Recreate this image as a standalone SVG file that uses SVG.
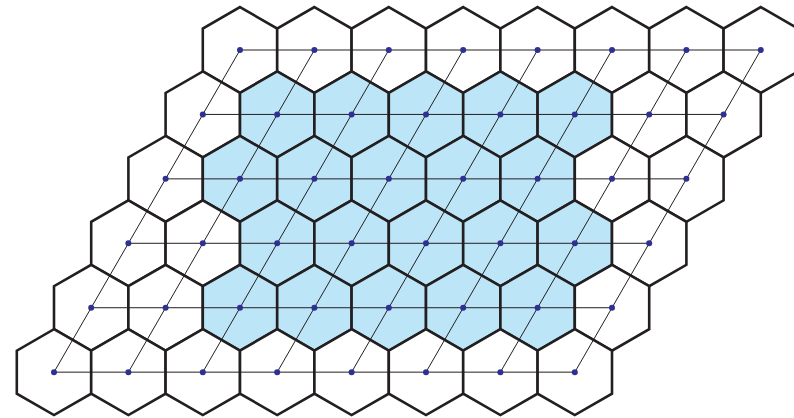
<svg xmlns="http://www.w3.org/2000/svg" xmlns:xlink="http://www.w3.org/1999/xlink" width="794" height="418" viewBox="0 0 794 418">
<style>
.hex{stroke:#231f20;stroke-width:2.6;stroke-linejoin:miter}
.w{fill:#ffffff}
.b{fill:#bde5f8}
.edge{stroke:#231f20;stroke-width:1;fill:none}
.dot{fill:#2e3192}
</style>
<defs>
<polygon id="hx" points="0,-42.95 37.2,-21.48 37.2,21.48 0,42.95 -37.2,21.48 -37.2,-21.48"/>
</defs>
<rect width="794" height="418" fill="#ffffff"/>
<g id="nodes">
<g id="n-0-0"><use xlink:href="#hx" class="hex w" x="240" y="50"/></g>
<g id="n-0-1"><use xlink:href="#hx" class="hex w" x="314.4" y="50"/></g>
<g id="n-0-2"><use xlink:href="#hx" class="hex w" x="388.8" y="50"/></g>
<g id="n-0-3"><use xlink:href="#hx" class="hex w" x="463.2" y="50"/></g>
<g id="n-0-4"><use xlink:href="#hx" class="hex w" x="537.6" y="50"/></g>
<g id="n-0-5"><use xlink:href="#hx" class="hex w" x="612" y="50"/></g>
<g id="n-0-6"><use xlink:href="#hx" class="hex w" x="686.4" y="50"/></g>
<g id="n-0-7"><use xlink:href="#hx" class="hex w" x="760.8" y="50"/></g>
<g id="n-1-0"><use xlink:href="#hx" class="hex w" x="202.8" y="114.43"/></g>
<g id="n-1-1"><use xlink:href="#hx" class="hex b" x="277.2" y="114.43"/></g>
<g id="n-1-2"><use xlink:href="#hx" class="hex b" x="351.6" y="114.43"/></g>
<g id="n-1-3"><use xlink:href="#hx" class="hex b" x="426" y="114.43"/></g>
<g id="n-1-4"><use xlink:href="#hx" class="hex b" x="500.4" y="114.43"/></g>
<g id="n-1-5"><use xlink:href="#hx" class="hex b" x="574.8" y="114.43"/></g>
<g id="n-1-6"><use xlink:href="#hx" class="hex w" x="649.2" y="114.43"/></g>
<g id="n-1-7"><use xlink:href="#hx" class="hex w" x="723.6" y="114.43"/></g>
<g id="n-2-0"><use xlink:href="#hx" class="hex w" x="165.6" y="178.86"/></g>
<g id="n-2-1"><use xlink:href="#hx" class="hex b" x="240" y="178.86"/></g>
<g id="n-2-2"><use xlink:href="#hx" class="hex b" x="314.4" y="178.86"/></g>
<g id="n-2-3"><use xlink:href="#hx" class="hex b" x="388.8" y="178.86"/></g>
<g id="n-2-4"><use xlink:href="#hx" class="hex b" x="463.2" y="178.86"/></g>
<g id="n-2-5"><use xlink:href="#hx" class="hex b" x="537.6" y="178.86"/></g>
<g id="n-2-6"><use xlink:href="#hx" class="hex w" x="612" y="178.86"/></g>
<g id="n-2-7"><use xlink:href="#hx" class="hex w" x="686.4" y="178.86"/></g>
<g id="n-3-0"><use xlink:href="#hx" class="hex w" x="128.4" y="243.29"/></g>
<g id="n-3-1"><use xlink:href="#hx" class="hex w" x="202.8" y="243.29"/></g>
<g id="n-3-2"><use xlink:href="#hx" class="hex b" x="277.2" y="243.29"/></g>
<g id="n-3-3"><use xlink:href="#hx" class="hex b" x="351.6" y="243.29"/></g>
<g id="n-3-4"><use xlink:href="#hx" class="hex b" x="426" y="243.29"/></g>
<g id="n-3-5"><use xlink:href="#hx" class="hex b" x="500.4" y="243.29"/></g>
<g id="n-3-6"><use xlink:href="#hx" class="hex b" x="574.8" y="243.29"/></g>
<g id="n-3-7"><use xlink:href="#hx" class="hex w" x="649.2" y="243.29"/></g>
<g id="n-4-0"><use xlink:href="#hx" class="hex w" x="91.2" y="307.72"/></g>
<g id="n-4-1"><use xlink:href="#hx" class="hex w" x="165.6" y="307.72"/></g>
<g id="n-4-2"><use xlink:href="#hx" class="hex b" x="240" y="307.72"/></g>
<g id="n-4-3"><use xlink:href="#hx" class="hex b" x="314.4" y="307.72"/></g>
<g id="n-4-4"><use xlink:href="#hx" class="hex b" x="388.8" y="307.72"/></g>
<g id="n-4-5"><use xlink:href="#hx" class="hex b" x="463.2" y="307.72"/></g>
<g id="n-4-6"><use xlink:href="#hx" class="hex b" x="537.6" y="307.72"/></g>
<g id="n-4-7"><use xlink:href="#hx" class="hex w" x="612" y="307.72"/></g>
<g id="n-5-0"><use xlink:href="#hx" class="hex w" x="54" y="372.15"/></g>
<g id="n-5-1"><use xlink:href="#hx" class="hex w" x="128.4" y="372.15"/></g>
<g id="n-5-2"><use xlink:href="#hx" class="hex w" x="202.8" y="372.15"/></g>
<g id="n-5-3"><use xlink:href="#hx" class="hex w" x="277.2" y="372.15"/></g>
<g id="n-5-4"><use xlink:href="#hx" class="hex w" x="351.6" y="372.15"/></g>
<g id="n-5-5"><use xlink:href="#hx" class="hex w" x="426" y="372.15"/></g>
<g id="n-5-6"><use xlink:href="#hx" class="hex w" x="500.4" y="372.15"/></g>
<g id="n-5-7"><use xlink:href="#hx" class="hex w" x="574.8" y="372.15"/></g>
</g>
<g id="connectors" class="edge">
<line x1="240" y1="50" x2="760.8" y2="50"/>
<line x1="202.8" y1="114.43" x2="723.6" y2="114.43"/>
<line x1="165.6" y1="178.86" x2="686.4" y2="178.86"/>
<line x1="128.4" y1="243.29" x2="649.2" y2="243.29"/>
<line x1="91.2" y1="307.72" x2="612" y2="307.72"/>
<line x1="54" y1="372.15" x2="574.8" y2="372.15"/>
<line x1="54" y1="372.15" x2="240" y2="50"/>
<line x1="128.4" y1="372.15" x2="314.4" y2="50"/>
<line x1="202.8" y1="372.15" x2="388.8" y2="50"/>
<line x1="277.2" y1="372.15" x2="463.2" y2="50"/>
<line x1="351.6" y1="372.15" x2="537.6" y2="50"/>
<line x1="426" y1="372.15" x2="612" y2="50"/>
<line x1="500.4" y1="372.15" x2="686.4" y2="50"/>
<line x1="574.8" y1="372.15" x2="760.8" y2="50"/>
</g>
<g id="points" class="dot">
<circle cx="240" cy="50" r="3"/><circle cx="314.4" cy="50" r="3"/><circle cx="388.8" cy="50" r="3"/><circle cx="463.2" cy="50" r="3"/><circle cx="537.6" cy="50" r="3"/><circle cx="612" cy="50" r="3"/><circle cx="686.4" cy="50" r="3"/><circle cx="760.8" cy="50" r="3"/>
<circle cx="202.8" cy="114.43" r="3"/><circle cx="277.2" cy="114.43" r="3"/><circle cx="351.6" cy="114.43" r="3"/><circle cx="426" cy="114.43" r="3"/><circle cx="500.4" cy="114.43" r="3"/><circle cx="574.8" cy="114.43" r="3"/><circle cx="649.2" cy="114.43" r="3"/><circle cx="723.6" cy="114.43" r="3"/>
<circle cx="165.6" cy="178.86" r="3"/><circle cx="240" cy="178.86" r="3"/><circle cx="314.4" cy="178.86" r="3"/><circle cx="388.8" cy="178.86" r="3"/><circle cx="463.2" cy="178.86" r="3"/><circle cx="537.6" cy="178.86" r="3"/><circle cx="612" cy="178.86" r="3"/><circle cx="686.4" cy="178.86" r="3"/>
<circle cx="128.4" cy="243.29" r="3"/><circle cx="202.8" cy="243.29" r="3"/><circle cx="277.2" cy="243.29" r="3"/><circle cx="351.6" cy="243.29" r="3"/><circle cx="426" cy="243.29" r="3"/><circle cx="500.4" cy="243.29" r="3"/><circle cx="574.8" cy="243.29" r="3"/><circle cx="649.2" cy="243.29" r="3"/>
<circle cx="91.2" cy="307.72" r="3"/><circle cx="165.6" cy="307.72" r="3"/><circle cx="240" cy="307.72" r="3"/><circle cx="314.4" cy="307.72" r="3"/><circle cx="388.8" cy="307.72" r="3"/><circle cx="463.2" cy="307.72" r="3"/><circle cx="537.6" cy="307.72" r="3"/><circle cx="612" cy="307.72" r="3"/>
<circle cx="54" cy="372.15" r="3"/><circle cx="128.4" cy="372.15" r="3"/><circle cx="202.8" cy="372.15" r="3"/><circle cx="277.2" cy="372.15" r="3"/><circle cx="351.6" cy="372.15" r="3"/><circle cx="426" cy="372.15" r="3"/><circle cx="500.4" cy="372.15" r="3"/><circle cx="574.8" cy="372.15" r="3"/>
</g>
</svg>
